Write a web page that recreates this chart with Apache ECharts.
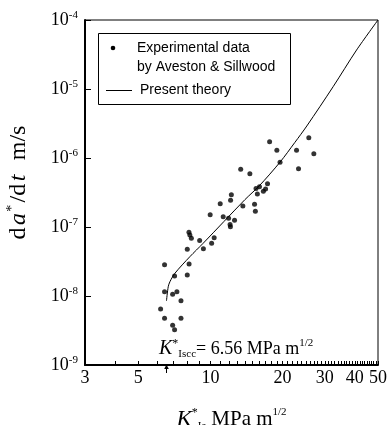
<!DOCTYPE html>
<html><head><meta charset="utf-8">
<script src="https://cdn.jsdelivr.net/npm/echarts@6/dist/echarts.min.js"></script>
<style>html,body{margin:0;padding:0;background:#fff}#c{width:387px;height:425px}</style>
</head><body><div id="c"></div>
<script>
// Experimental data by Aveston & Sillwood: K*_Ia (MPa m^1/2) and da*/dt (m/s)
const expK = [6.44, 8.15, 7.09, 8.01, 6.44, 6.96, 7.25, 7.54, 6.20, 6.44, 7.54, 6.96, 7.09,
  8.01, 9.35, 10.12, 10.37, 9.02, 8.14, 8.21, 8.33, 12.12, 12.08, 12.61, 11.91, 11.31, 9.98,
  10.99, 12.14, 12.23, 13.66, 15.28, 15.40, 13.38, 14.61, 15.70, 15.50, 16.02, 16.63, 16.99,
  17.31, 17.66, 18.93, 19.52, 22.87, 23.31, 25.73, 27.0];
const expRate = [2.84e-8, 2.91e-8, 1.95e-8, 2.01e-8, 1.15e-8, 1.06e-8, 1.15e-8, 8.55e-9, 6.48e-9,
  4.75e-9, 4.75e-9, 3.76e-9, 3.25e-9, 4.75e-8, 4.85e-8, 5.81e-8, 7.00e-8, 6.37e-8, 8.38e-8,
  7.66e-8, 6.86e-8, 1.01e-7, 1.09e-7, 1.25e-7, 1.34e-7, 1.41e-7, 1.51e-7, 2.18e-7, 2.45e-7,
  2.94e-7, 2.02e-7, 2.14e-7, 1.69e-7, 6.86e-7, 5.90e-7, 3.01e-7, 3.61e-7, 3.84e-7, 3.29e-7,
  3.56e-7, 4.23e-7, 1.72e-6, 1.29e-6, 8.69e-7, 1.30e-6, 7.00e-7, 1.96e-6, 1.15e-6];
// Present theory curve
const theoryK = [6.56, 6.67, 6.78, 7.11, 8.21, 9.33, 13.93, 15.97, 19.54, 22.5, 25.24, 32.5, 40.7, 50];
const theoryRate = [8.5e-9, 1.36e-8, 1.61e-8, 2.13e-8, 3.71e-8, 5.81e-8, 2.49e-7, 3.93e-7,
  8.75e-7, 1.68e-6, 2.91e-6, 1.08e-5, 3.67e-5, 1e-4];
// Axis ticks
const xTickLabels = [3, 5, 10, 20, 30, 40, 50];
const xMinorTicks = [3,4,5,6,7,8,9,10,11,12,13,14,15,16,17,18,19,20,21,22,23,24,25,26,27,28,29,30,
  31,32,33,34,35,36,37,38,39,40,41,42,43,44,45,46,47,48,49,50];
const yTickLabels = ['-9', '-8', '-7', '-6', '-5', '-4'];
const KIscc = 6.56;

const serif = '"Liberation Serif", "Times New Roman", serif';
const sans = '"Liberation Sans", Arial, sans-serif';

const chart = echarts.init(document.getElementById('c'), null, {renderer: 'canvas'});

const richMath = (main, subPad, pad) => ({
  r: {fontFamily: serif, fontSize: main, lineHeight: main + 4, color: '#000', padding: [0, pad, 0, pad]},
  K: {fontFamily: serif, fontStyle: 'italic', fontSize: main + 2, lineHeight: main + 4, color: '#000'},
  i: {fontFamily: serif, fontStyle: 'italic', fontSize: main, lineHeight: main + 4, color: '#000', padding: [0, pad, 0, pad]},
  st: {fontFamily: serif, fontSize: 12, lineHeight: 12, verticalAlign: 'top', color: '#000'},
  sub: {fontFamily: serif, fontSize: 11, lineHeight: 11, verticalAlign: 'bottom', color: '#000', padding: [0, subPad, 0, 0]},
  sup: {fontFamily: serif, fontSize: 11, lineHeight: 11, verticalAlign: 'top', color: '#000'},
  sup2: {fontFamily: serif, fontSize: 14, lineHeight: 14, verticalAlign: 'top', color: '#000', padding: [0, pad, 0, 0]}
});

const option = {
  animation: false,
  backgroundColor: '#fff',
  grid: {left: 85, right: 9, top: 20, bottom: 60, show: true, borderColor: '#000', borderWidth: 1,
    backgroundColor: 'transparent', outerBoundsMode: 'none', containLabel: false},
  xAxis: {
    type: 'log', logBase: 10, min: 3, max: 50,
    axisLine: {show: true, onZero: false, lineStyle: {color: '#000', width: 2}},
    axisTick: {show: true, inside: true, length: 4, customValues: xMinorTicks, lineStyle: {color: '#000', width: 1}},
    axisLabel: {customValues: xTickLabels, margin: 4, fontFamily: serif, fontSize: 18, color: '#000', hideOverlap: false,
      formatter: (v) => String(Math.round(v))},
    splitLine: {show: false},
    minorTick: {show: false},
    name: '{K|K}{st|*}{sub|Ia}{r|MPa m}{sup|1/2}',
    nameLocation: 'middle', nameGap: 42,
    nameTextStyle: {rich: richMath(21, 5, 0)}
  },
  yAxis: {
    type: 'log', logBase: 10, min: 1e-9, max: 1e-4,
    axisLine: {show: true, onZero: false, lineStyle: {color: '#000', width: 2}},
    axisTick: {show: true, inside: true, length: 6, lineStyle: {color: '#000', width: 1}},
    axisLabel: {margin: 7, color: '#000',
      formatter: (v) => '{b|10}{s|' + yTickLabels[Math.round(Math.log10(v)) + 9] + '}',
      rich: {
        b: {fontFamily: serif, fontSize: 18, lineHeight: 20, color: '#000'},
        s: {fontFamily: serif, fontSize: 11, lineHeight: 11, verticalAlign: 'top', color: '#000'}
      }},
    splitLine: {show: false},
    name: '{r|d}{i|a}{sup2|*}{r|/d}{i|t}{r|  m/s}',
    nameLocation: 'middle', nameGap: 52,
    nameTextStyle: {rich: richMath(24, 0, 1.2), padding: [0, 0, 0, 20]}
  },
  series: [
    {
      name: 'Experimental data by Aveston & Sillwood', type: 'scatter',
      data: expK.map((k, i) => [k, expRate[i]]),
      symbol: 'circle', symbolSize: 5, itemStyle: {color: '#000'}
    },
    {
      name: 'Present theory', type: 'line',
      data: theoryK.map((k, i) => [k, theoryRate[i]]),
      showSymbol: false, symbol: 'none', smooth: 0.3,
      lineStyle: {color: '#000', width: 1}
    }
  ]
};
chart.setOption(option);

const ax = chart.convertToPixel({xAxisIndex: 0}, KIscc);
const axisY = chart.convertToPixel({yAxisIndex: 0}, 1e-9);

chart.setOption({
  graphic: [
    {type: 'rect', shape: {x: 98.5, y: 33.5, width: 192, height: 71}, style: {fill: '#fff', stroke: '#000', lineWidth: 1}, z: 100},
    {type: 'circle', shape: {cx: 113, cy: 48, r: 2.3}, style: {fill: '#000'}, z: 101},
    {type: 'text', x: 137, y: 48, style: {text: 'Experimental data', font: '14px ' + sans, fill: '#000', verticalAlign: 'middle'}, z: 101},
    {type: 'text', x: 137, y: 67, style: {text: 'by Aveston & Sillwood', font: '14px ' + sans, fill: '#000', verticalAlign: 'middle'}, z: 101},
    {type: 'line', shape: {x1: 106, y1: 90.5, x2: 132, y2: 90.5}, style: {stroke: '#000', lineWidth: 1}, z: 101},
    {type: 'text', x: 140, y: 90, style: {text: 'Present theory', font: '14px ' + sans, fill: '#000', verticalAlign: 'middle'}, z: 101},
    {type: 'text', x: 159, y: 338, style: {text: '{K|K}{st|*}{sub|Iscc}{r|= 6.56 MPa m}{sup|1/2}', rich: richMath(18, 0, 0)}, z: 101},
    {type: 'line', shape: {x1: Math.round(ax) + 0.5, y1: axisY + 2, x2: Math.round(ax) + 0.5, y2: axisY + 8}, style: {stroke: '#000', lineWidth: 1}, z: 101},
    {type: 'polygon', shape: {points: [[Math.round(ax) + 0.5, axisY - 0.5], [Math.round(ax) - 1.8, axisY + 4], [Math.round(ax) + 2.8, axisY + 4]]}, style: {fill: '#000'}, z: 101}
  ]
});
</script>
</body></html>
